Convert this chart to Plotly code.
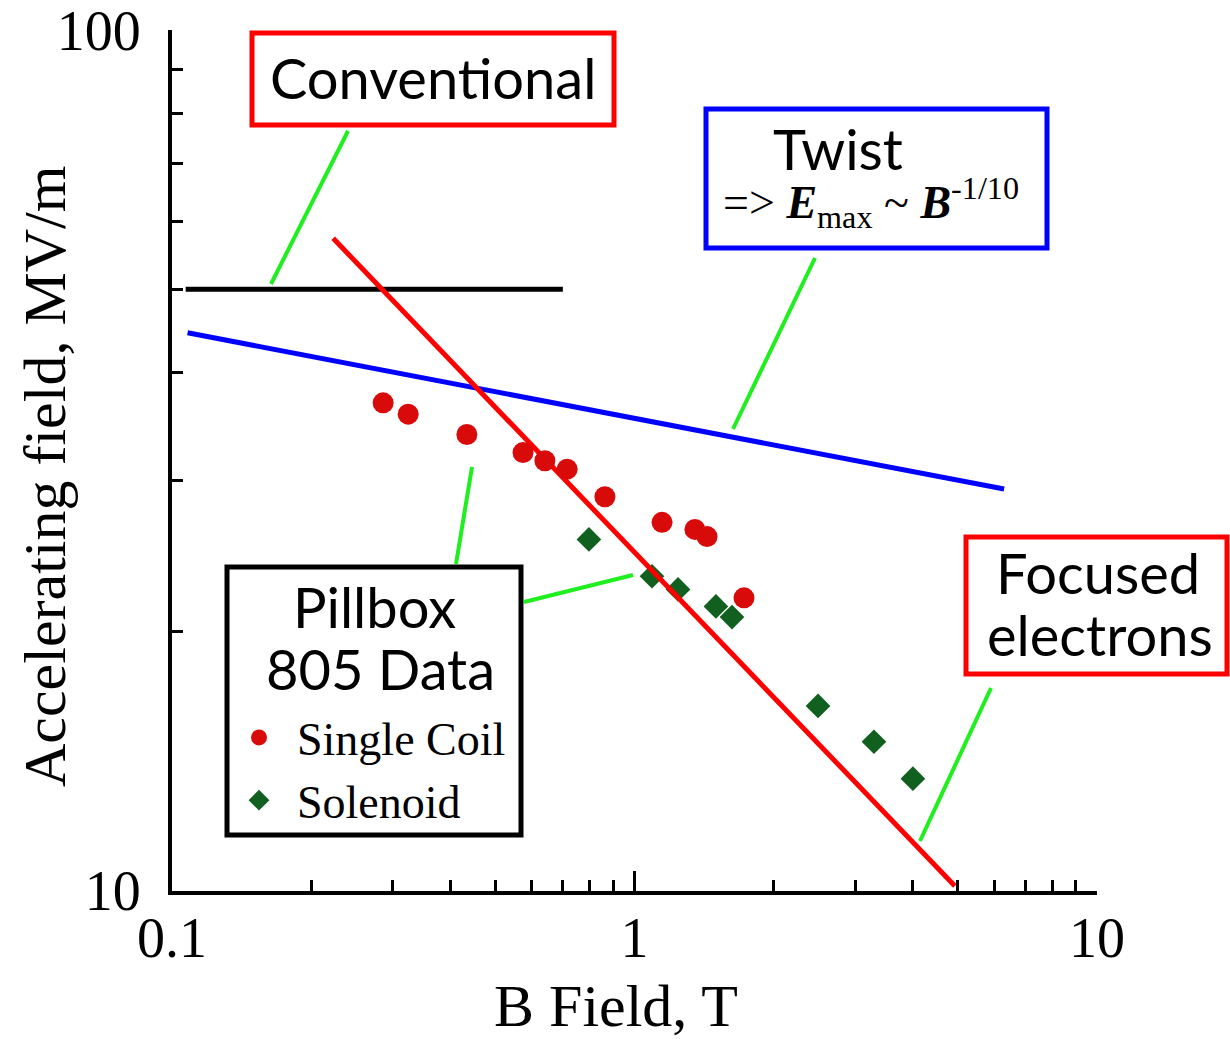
import plotly.graph_objects as go

# ---------------- data ----------------
conv_b = [0.107, 0.70]
conv_e = [50, 50]

twist_b = [0.108, 6.3]
twist_e = [44.5, 29.3]

focus_b = [0.223, 4.93]
focus_e = [57.3, 10.13]

single_b = [0.286, 0.324, 0.434, 0.574, 0.640, 0.715, 0.863, 1.147, 1.351, 1.435, 1.725]
single_e = [36.9, 35.8, 33.9, 32.3, 31.6, 30.9, 28.7, 26.8, 26.3, 25.8, 21.9]

sol_b = [0.797, 1.091, 1.242, 1.50, 1.625, 2.494, 3.295, 4.0]
sol_e = [25.6, 23.2, 22.4, 21.4, 20.8, 16.4, 14.9, 13.5]

x_ticks = [0.1, 1, 10]
x_ticklabels = ["0.1", "1", "10"]
x_minor = [0.2, 0.3, 0.4, 0.5, 0.6, 0.7, 0.8, 0.9, 2, 3, 4, 5, 6, 7, 8, 9]
y_ticks = [10, 100]
y_ticklabels = ["10", "100"]
y_minor = [20, 30, 40, 50, 60, 70, 80, 90]

# ---------------- layout helpers ----------------
W, H = 1230, 1039
L, R, T, B = 172, 1097, 30, 891


def px(x):
    return (x - L) / (R - L)


def py(y):
    return (B - y) / (B - T)


SERIF = "Liberation Serif"
SANS = "Lato"
GREEN = "#1fee1f"

fig = go.Figure()

fig.add_trace(go.Scatter(x=conv_b, y=conv_e, mode="lines",
                         line=dict(color="black", width=5), showlegend=False,
                         name="Conventional"))
fig.add_trace(go.Scatter(x=twist_b, y=twist_e, mode="lines",
                         line=dict(color="#0000ff", width=5), showlegend=False,
                         name="Twist"))
fig.add_trace(go.Scatter(x=sol_b, y=sol_e, mode="markers",
                         marker=dict(symbol="diamond", size=19, color="#11601f"),
                         name="Solenoid", legendrank=2))
fig.add_trace(go.Scatter(x=focus_b, y=focus_e, mode="lines",
                         line=dict(color="#ff0000", width=5), showlegend=False,
                         name="Focused electrons"))
fig.add_trace(go.Scatter(x=single_b, y=single_e, mode="markers",
                         marker=dict(symbol="circle", size=21, color="#d90a0a"),
                         name="Single Coil", legendrank=1))

shapes = []


def box(x0, y0, x1, y1, color, w):
    shapes.append(dict(type="rect", xref="paper", yref="paper",
                       x0=px(x0), x1=px(x1), y0=py(y1), y1=py(y0),
                       line=dict(color=color, width=w), fillcolor="white",
                       layer="below"))


def leader(x0, y0, x1, y1):
    shapes.append(dict(type="line", xref="paper", yref="paper",
                       x0=px(x0), y0=py(y0), x1=px(x1), y1=py(y1),
                       line=dict(color=GREEN, width=4)))


box(252, 33, 614, 125, "#ff0000", 5)
box(706, 109, 1047, 248, "#0000ff", 5)
box(227, 567, 521, 835, "black", 5)
box(966, 537, 1227, 674, "#ff0000", 5)

leader(271, 284, 348, 131)
leader(733, 429, 815, 258)
leader(456, 564, 472, 467)
leader(524, 602, 633, 575)
leader(920, 841, 991, 688)

annotations = []


def label(text, x, y, font, size, xanchor="center", angle=0):
    annotations.append(dict(text=text, x=px(x), y=py(y), xref="paper", yref="paper",
                            showarrow=False, xanchor=xanchor, yanchor="middle",
                            textangle=angle,
                            font=dict(family=font, size=size, color="black")))


label("Conventional", 433, 78, SANS, 56)
label("Twist", 838, 149, SANS, 56)
label("=> <b><i>E</i></b><sub>max</sub> ~ <b><i>B</i></b><sup>-1/10</sup>", 871, 202, SERIF, 46)
label("Pillbox", 374, 606, SANS, 56)
label("805 Data", 380, 668, SANS, 56)
label("Focused", 1098, 573, SANS, 56)
label("electrons", 1100, 634, SANS, 56)
label("B Field, T", 616, 1006, SERIF, 60)
label("Accelerating field, MV/m", 45, 477, SERIF, 60, angle=-90)

fig.update_layout(
    width=W, height=H,
    margin=dict(l=L, r=W - R, t=T, b=H - B),
    paper_bgcolor="white", plot_bgcolor="white",
    shapes=shapes, annotations=annotations,
    showlegend=True,
    legend=dict(x=px(221), y=py(701), xanchor="left", yanchor="top",
                bgcolor="rgba(0,0,0,0)", borderwidth=0,
                itemwidth=66,
                font=dict(family=SERIF, size=46, color="black"),
                tracegroupgap=0),
    xaxis=dict(type="log", range=[-1.0002, 1.0002], showgrid=False, zeroline=False,
               automargin=False,
               showline=True, linecolor="black", linewidth=4,
               ticks="inside", ticklen=20, tickwidth=3, tickcolor="black",
               tickvals=x_ticks, ticktext=x_ticklabels,
               tickfont=dict(family=SERIF, size=56, color="black"),
               ticklabelstandoff=-5, ticklabeloverflow="allow",
               minor=dict(tickvals=x_minor, ticks="inside", ticklen=11,
                          tickwidth=3, tickcolor="black", showgrid=False)),
    yaxis=dict(type="log", range=[0.9998, 2.0002], showgrid=False, zeroline=False,
               automargin=False,
               showline=True, linecolor="black", linewidth=4,
               ticks="inside", ticklen=23, tickwidth=3, tickcolor="black",
               tickvals=y_ticks, ticktext=y_ticklabels,
               tickfont=dict(family=SERIF, size=56, color="black"),
               ticklabelstandoff=16, ticklabeloverflow="allow",
               minor=dict(tickvals=y_minor, ticks="inside", ticklen=11,
                          tickwidth=3, tickcolor="black", showgrid=False)),
)

fig.write_html("out.html")
